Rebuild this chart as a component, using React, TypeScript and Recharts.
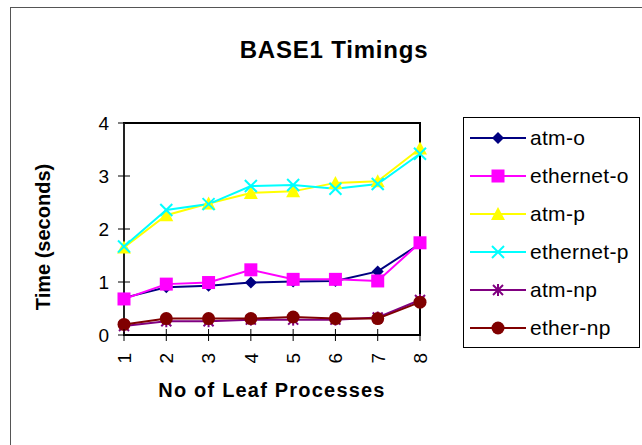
import React from "react";
import { LineChart, Line, XAxis, YAxis, ReferenceArea } from "recharts";

const leafCounts = [1, 2, 3, 4, 5, 6, 7, 8];
const atmO = [0.7, 0.9, 0.93, 0.99, 1.01, 1.02, 1.2, 1.72];
const ethernetO = [0.68, 0.96, 0.99, 1.23, 1.05, 1.05, 1.02, 1.74];
const atmP = [1.65, 2.26, 2.48, 2.68, 2.71, 2.87, 2.9, 3.52];
const ethernetP = [1.67, 2.36, 2.47, 2.81, 2.83, 2.76, 2.85, 3.42];
const atmNp = [0.17, 0.26, 0.26, 0.29, 0.29, 0.29, 0.33, 0.66];
const etherNp = [0.2, 0.31, 0.31, 0.31, 0.34, 0.31, 0.31, 0.62];
const yTicks = [0, 1, 2, 3, 4];

type Shape = "diamond" | "square" | "triangle" | "x" | "star" | "circle";

const SERIES: { key: string; name: string; color: string; shape: Shape; values: number[] }[] = [
  { key: "atmO", name: "atm-o", color: "#000080", shape: "diamond", values: atmO },
  { key: "ethernetO", name: "ethernet-o", color: "#FF00FF", shape: "square", values: ethernetO },
  { key: "atmP", name: "atm-p", color: "#FFFF00", shape: "triangle", values: atmP },
  { key: "ethernetP", name: "ethernet-p", color: "#00FFFF", shape: "x", values: ethernetP },
  { key: "atmNp", name: "atm-np", color: "#800080", shape: "star", values: atmNp },
  { key: "etherNp", name: "ether-np", color: "#800000", shape: "circle", values: etherNp },
];

const data = leafCounts.map((n, i) => {
  const row: Record<string, number> = { n };
  SERIES.forEach((s) => (row[s.key] = s.values[i]));
  return row;
});

const FONT = "Arial, 'Liberation Sans', Helvetica, sans-serif";

function Marker({ shape, color, cx, cy }: { shape: Shape; color: string; cx: number; cy: number }) {
  switch (shape) {
    case "diamond":
      return <polygon points={`${cx},${cy - 6} ${cx + 6},${cy} ${cx},${cy + 6} ${cx - 6},${cy}`} fill={color} />;
    case "square":
      return <rect x={cx - 6.5} y={cy - 6.5} width={13} height={13} fill={color} />;
    case "triangle":
      return <polygon points={`${cx},${cy - 7} ${cx + 7},${cy + 6} ${cx - 7},${cy + 6}`} fill={color} />;
    case "x":
      return (
        <g stroke={color} strokeWidth={2}>
          <line x1={cx - 6} y1={cy - 6} x2={cx + 6} y2={cy + 6} />
          <line x1={cx - 6} y1={cy + 6} x2={cx + 6} y2={cy - 6} />
        </g>
      );
    case "star":
      return (
        <g stroke={color} strokeWidth={2}>
          <line x1={cx - 5} y1={cy - 5} x2={cx + 5} y2={cy + 5} />
          <line x1={cx - 5} y1={cy + 5} x2={cx + 5} y2={cy - 5} />
          <line x1={cx} y1={cy - 6} x2={cx} y2={cy + 6} />
        </g>
      );
    default:
      return <circle cx={cx} cy={cy} r={6.5} fill={color} />;
  }
}

const YTick = (props: any) => {
  const { x, y, payload } = props;
  return (
    <g>
      <line x1={x - 6} y1={y} x2={x + 6} y2={y} stroke="#000" strokeWidth={1} />
      <text x={x - 15} y={y} dy="0.36em" textAnchor="end" fontSize={19} fontFamily={FONT} fill="#000">
        {payload.value}
      </text>
    </g>
  );
};

const XTick = (props: any) => {
  const { x, y, payload } = props;
  const ty = y + 18;
  return (
    <g>
      <line x1={x} y1={y - 6} x2={x} y2={y + 6} stroke="#000" strokeWidth={1} />
      <text
        x={x}
        y={ty}
        dy="0.36em"
        textAnchor="end"
        transform={`rotate(-90 ${x} ${ty})`}
        fontSize={19}
        fontFamily={FONT}
        fill="#000"
      >
        {payload.value}
      </text>
    </g>
  );
};

function LegendBox() {
  return (
    <div
      style={{
        position: "absolute",
        left: 463,
        top: 117,
        width: 175,
        height: 229,
        border: "1px solid #000",
        background: "#fff",
      }}
    >
      {SERIES.map((s, i) => (
        <div
          key={s.key}
          style={{ position: "absolute", left: 0, top: 20 + i * 38 - 12, height: 24, display: "flex", alignItems: "center" }}
        >
          <svg width={64} height={24} style={{ display: "block" }}>
            <line x1={6} y1={12} x2={62} y2={12} stroke={s.color} strokeWidth={2} />
            <Marker shape={s.shape} color={s.color} cx={34} cy={12} />
          </svg>
          <span
            style={{
              fontFamily: FONT,
              fontSize: 21,
              letterSpacing: 0.3,
              marginLeft: 2,
              color: "#000",
              whiteSpace: "nowrap",
            }}
          >
            {s.name}
          </span>
        </div>
      ))}
    </div>
  );
}

export default function App() {
  return (
    <div style={{ position: "relative", width: 642, height: 445, overflow: "hidden", background: "#fff" }}>
      <style>{"body{margin:0}"}</style>
      <div
        style={{
          position: "absolute",
          left: 10,
          top: 7,
          width: 700,
          height: 500,
          border: "1px solid #555",
        }}
      />
      <div
        style={{
          position: "absolute",
          left: 0,
          width: 668,
          top: 35,
          textAlign: "center",
          fontFamily: FONT,
          fontWeight: "bold",
          fontSize: 24,
          letterSpacing: 0.8,
          lineHeight: "30px",
        }}
      >
        BASE1 Timings
      </div>
      <LineChart
        width={642}
        height={445}
        data={data}
        margin={{ top: 123, right: 222, bottom: 70, left: 64 }}
        style={{ position: "absolute", left: 0, top: 0 }}
      >
        <XAxis
          dataKey="n"
          height={40}
          axisLine={{ stroke: "#000", strokeWidth: 2 }}
          tickLine={false}
          tickSize={0}
          tickMargin={0}
          tick={<XTick />}
          interval={0}
        />
        <YAxis
          width={60}
          domain={[0, 4]}
          ticks={yTicks}
          axisLine={{ stroke: "#222", strokeWidth: 2 }}
          tickLine={false}
          tickSize={0}
          tickMargin={0}
          tick={<YTick />}
        />
        <ReferenceArea x1={1} x2={8} y1={0} y2={4} fill="none" stroke="#000" strokeWidth={2} />
        {SERIES.map((s) => (
          <Line
            key={s.key}
            dataKey={s.key}
            name={s.name}
            stroke={s.color}
            strokeWidth={2}
            isAnimationActive={false}
            activeDot={false}
            dot={(p: any) => <Marker key={`${s.key}-${p.index}`} shape={s.shape} color={s.color} cx={p.cx} cy={p.cy} />}
          />
        ))}
      </LineChart>
      <div
        style={{
          position: "absolute",
          left: 29,
          top: 237,
          width: 0,
          height: 0,
        }}
      >
        <div
          style={{
            position: "absolute",
            left: -100,
            top: -14,
            width: 200,
            textAlign: "center",
            transform: "rotate(-90deg) translateY(14px)",
            fontFamily: FONT,
            fontWeight: "bold",
            fontSize: 20,
            lineHeight: "28px",
          }}
        >
          Time (seconds)
        </div>
      </div>
      <div
        style={{
          position: "absolute",
          left: 72,
          width: 400,
          top: 376,
          textAlign: "center",
          fontFamily: FONT,
          fontWeight: "bold",
          fontSize: 20,
          letterSpacing: 1.2,
          lineHeight: "28px",
        }}
      >
        No of Leaf Processes
      </div>
      <LegendBox />
    </div>
  );
}
